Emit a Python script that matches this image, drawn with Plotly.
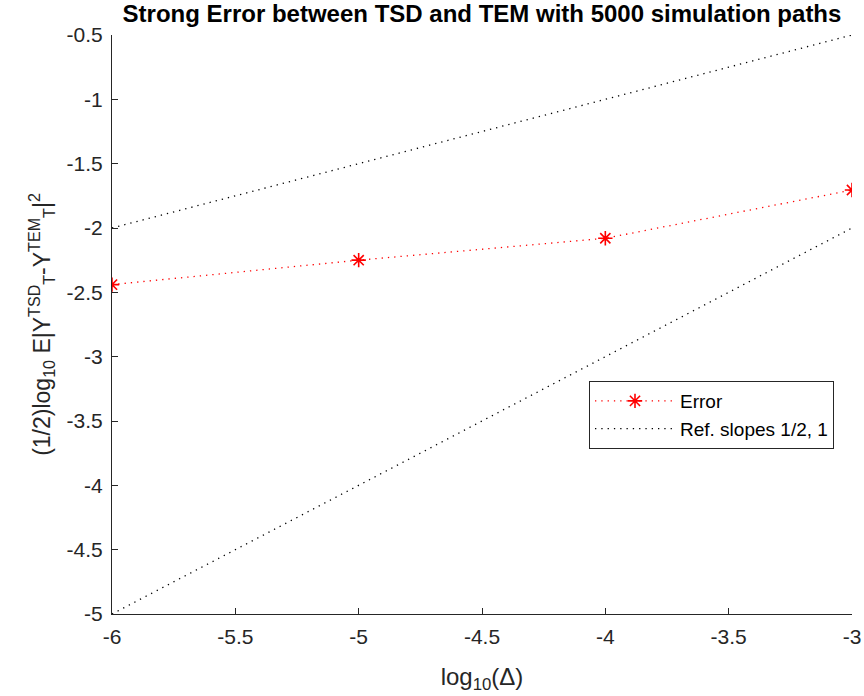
import plotly.graph_objects as go

log_dt = [-6, -5, -4, -3]
error_vals = [-2.44, -2.25, -2.08, -1.705]

ref_x = [-6, -3, None, -6, -3]
ref_y = [-2, -0.5, None, -5, -2]

x_ticks = [-6, -5.5, -5, -4.5, -4, -3.5, -3]
y_ticks = [-5, -4.5, -4, -3.5, -3, -2.5, -2, -1.5, -1, -0.5]

FONT = "Liberation Sans, Arial, sans-serif"
DOT = "1.3px,5px"

fig = go.Figure()
fig.add_trace(go.Scatter(
    x=log_dt, y=error_vals, mode="lines+markers", name="Error",
    line=dict(color="red", dash=DOT, width=1.3),
    marker=dict(symbol="asterisk-open", size=12, color="red",
                line=dict(color="red", width=1.6)),
))
fig.add_trace(go.Scatter(
    x=ref_x, y=ref_y, mode="lines", name="Ref. slopes 1/2, 1",
    line=dict(color="black", dash=DOT, width=1.3),
))

axis_common = dict(
    showline=True, linecolor="#262626", linewidth=1, mirror=False,
    ticks="inside", ticklen=6, tickcolor="#262626",
    showgrid=False, zeroline=False, ticklabelstandoff=4, automargin=False,
    tickfont=dict(family=FONT, size=21, color="#262626"),
)

fig.update_layout(
    width=864, height=696,
    paper_bgcolor="white", plot_bgcolor="white",
    margin=dict(l=112, r=12, t=35, b=82, autoexpand=False),
    font=dict(family=FONT, color="#262626"),
    title=dict(text="<b>Strong Error between TSD and TEM with 5000 simulation paths</b>",
               xref="paper", x=0.5, xanchor="center",
               yref="container", y=1.0, yanchor="top", pad=dict(t=5, b=0),
               font=dict(family=FONT, size=24, color="black")),
    xaxis=dict(range=[-6, -3], tickvals=x_ticks,
               ticktext=[f"{v:g}" for v in x_ticks],
               title=dict(text="log<sub>10</sub>(Δ)", font=dict(size=24), standoff=20),
               **axis_common),
    yaxis=dict(range=[-5, -0.5], tickvals=y_ticks,
               ticktext=[f"{v:g}" for v in y_ticks],
               title=dict(text="(1/2)log<sub>10</sub> E|Y<sup>TSD</sup><sub>T</sub>-Y<sup>TEM</sup><sub>T</sub>|<sup>2</sup>",
                          font=dict(size=23), standoff=9),
               **axis_common),
    legend=dict(x=(589 - 112) / 740, y=(614 - 381) / 579, xanchor="left", yanchor="top",
                bgcolor="white", bordercolor="#262626", borderwidth=1,
                font=dict(family=FONT, size=19, color="black"),
                itemwidth=80, tracegroupgap=0),
    showlegend=True,
)

fig.write_html("out.html", config={"displayModeBar": False},
               post_script="document.body.style.margin='0px';")
